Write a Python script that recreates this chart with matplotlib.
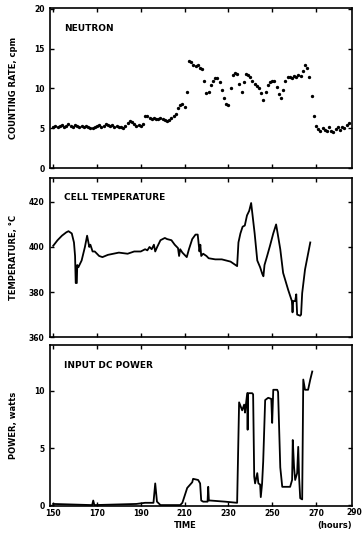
import numpy as np
import matplotlib.pyplot as plt

# neutron counting rate (cpm), hourly readings
n_time = np.arange(150, 286)
n_rate = [5.2, 5.3, 5.1, 5.3, 5.4, 5.2, 5.3, 5.5, 5.3, 5.2,
          5.4, 5.3, 5.1, 5.3, 5.2, 5.3, 5.2, 5.0, 5.0, 5.2,
          5.3, 5.4, 5.2, 5.3, 5.5, 5.4, 5.3, 5.4, 5.2, 5.3,
          5.2, 5.1, 5.0, 5.3, 5.6, 5.9, 5.8, 5.5, 5.3, 5.4,
          5.3, 5.5, 6.6, 6.5, 6.3, 6.2, 6.3, 6.1, 6.2, 6.3,
          6.1, 6.0, 5.9, 6.0, 6.3, 6.5, 6.8, 7.6, 7.9, 8.1,
          7.7, 9.5, 13.5, 13.3, 13.0, 12.8, 13.0, 12.6, 12.5, 11.0,
          9.4, 9.6, 10.4, 11.0, 11.3, 11.3, 10.8, 9.8, 8.8, 8.0,
          7.9, 10.0, 11.7, 11.9, 11.8, 10.6, 9.5, 10.8, 11.8, 11.7,
          11.4, 10.9, 10.6, 10.3, 10.0, 9.4, 8.6, 9.6, 10.4, 10.8,
          11.0, 11.0, 10.2, 9.3, 8.8, 9.8, 11.0, 11.4, 11.5, 11.3,
          11.6, 11.5, 11.7, 11.6, 12.2, 13.0, 12.6, 11.5, 9.0, 6.5,
          5.3, 4.9, 4.7, 5.0, 4.8, 4.6, 5.1, 4.7, 4.5, 4.9,
          5.1, 4.8, 5.2, 5.0, 5.4, 5.6]

# cell temperature (deg C)
t_time = [150, 152, 154, 156, 157, 158.5, 159.5, 160, 160.3, 160.8,
          161, 161.5, 163, 164.5, 165.5, 166.5, 167, 168, 169, 171,
          172.5, 175, 180, 184, 187, 190, 192, 193, 194, 195,
          196, 196.6, 197.5, 199, 201, 202, 204, 205.5, 207, 207.5,
          208, 209, 211, 212, 213.5, 215, 216, 216.8, 217.2, 217.6,
          218.5, 220, 221, 224, 227, 229, 231, 232.5, 234, 234.6,
          235.5, 236.5, 237.5, 238.5, 239.5, 240.4, 242, 243.2, 244.5, 245.5,
          246, 246.5, 247.7, 249, 250.5, 251.8, 252.5, 253.7, 255, 257.3,
          259, 259.3, 259.6, 260.5, 261, 261.4, 262.8, 263.2, 263.7, 265,
          267.4]
t_temp = [400.5, 403, 405, 406.5, 407, 406, 402, 396, 384, 384,
          392, 391, 394, 400, 405, 400, 401, 398, 398, 396,
          395.5, 396.5, 397.5, 397, 398, 398, 399, 398.5, 400, 399,
          401, 398, 400, 403, 404, 403.5, 403, 401, 399.5, 396,
          399, 397.5, 395.5, 399, 403.5, 405.5, 405.5, 398, 401, 396,
          397, 396, 395, 394.5, 394.5, 394, 393.5, 392.5, 391.5, 402,
          406, 409, 409.5, 414, 416, 419.5, 406, 394, 391, 388,
          387, 392, 396, 400.5, 406, 410, 406, 399, 388.5, 381,
          376, 371, 376, 376, 379, 370, 369.5, 370, 379.5, 390,
          402]

# input dc power (watts)
p_time = [150, 167.8, 168.3, 168.8, 188, 192, 195.8, 196.6, 197.4, 199,
          208, 209, 211.2, 213.5, 213.9, 216.2, 217.1, 217.6, 218.5, 220.5,
          220.8, 221.1, 221.7, 228.5, 234, 234.9, 236.3, 237.2, 237.6, 238.6,
          238.8, 239, 240.9, 241.3, 241.8, 242.2, 243.2, 243.7, 244.5, 244.8,
          245.4, 245.9, 246.8, 248.2, 249.6, 250, 250.5, 252.3, 252.7, 253.7,
          254.6, 258.2, 259.1, 259.4, 260, 260.5, 261.4, 261.9, 262.3, 262.8,
          263.7, 264.2, 265, 266.4, 267.4, 268.3]
p_watt = [0.1, 0.0, 0.4, 0.0, 0.1, 0.2, 0.2, 1.9, 0.3, 0.0,
          0.0, 0.2, 1.5, 2.0, 2.3, 2.2, 1.9, 0.4, 0.3, 0.3,
          1.6, 0.4, 0.4, 0.3, 0.2, 9.0, 8.3, 8.8, 8.1, 9.8,
          6.6, 9.8, 9.8, 9.7, 2.5, 1.9, 2.8, 1.9, 1.8, 0.7,
          1.9, 3.8, 9.2, 9.4, 9.3, 7.2, 10.1, 10.1, 9.9, 3.3,
          1.6, 1.6, 2.2, 5.7, 3.3, 2.2, 2.8, 5.1, 2.4, 0.6,
          0.5, 11.0, 10.1, 10.1, 11.0, 11.7]

xticks = [150, 170, 190, 210, 230, 250, 270]

plt.rcParams['font.family'] = 'DejaVu Sans'
plt.rcParams['font.weight'] = 'bold'

fig = plt.figure(figsize=(3.63, 5.42), dpi=100)
left, width = 0.138, 0.832
ax1 = fig.add_axes([left, 0.690, width, 0.295])
ax2 = fig.add_axes([left, 0.378, width, 0.294])
ax3 = fig.add_axes([left, 0.066, width, 0.297])

ax1.plot(n_time, n_rate, linestyle='none', marker='o', markersize=1.4,
         color='black')
ax2.plot(t_time, t_temp, color='black', linewidth=1.3)
ax3.plot(p_time, p_watt, color='black', linewidth=1.3)

ax1.set_ylim(0, 20.1)
ax1.set_yticks([0, 5, 10, 15, 20])
ax2.set_ylim(360, 430.7)
ax2.set_yticks([360, 380, 400, 420])
ax3.set_ylim(-0.1, 14)
ax3.set_yticks([0, 5, 10])

for ax in (ax1, ax2, ax3):
    ax.set_xlim(148.6, 286.5)
    ax.set_xticks(xticks)
    ax.tick_params(direction='in', length=3, width=1.0, top=True,
                   right=True, labelsize=5.5)
    ax.tick_params(axis='y', pad=4)
    ax.tick_params(axis='x', pad=2)
    for s in ax.spines.values():
        s.set_linewidth(1.2)
    ax.yaxis.set_label_coords(-0.105, 0.5)
ax1.tick_params(labelbottom=False)
ax2.tick_params(labelbottom=False)

ax1.text(0.045, 0.86, 'NEUTRON', transform=ax1.transAxes, fontsize=6.5,
         fontweight='bold')
ax2.text(0.045, 0.86, 'CELL TEMPERATURE', transform=ax2.transAxes,
         fontsize=6.5, fontweight='bold')
ax3.text(0.045, 0.86, 'INPUT DC POWER', transform=ax3.transAxes,
         fontsize=6.5, fontweight='bold')

ax1.set_ylabel('COUNTING RATE, cpm', fontsize=6, fontweight='bold')
ax2.set_ylabel('TEMPERATURE, \u00b0C', fontsize=6, fontweight='bold')
ax3.set_ylabel('POWER, watts', fontsize=6, fontweight='bold')

# last time label sits past the right frame, as in the original print
fig.text(0.997, 0.054, '290', fontsize=5.5, fontweight='bold',
         ha='right', va='center')
fig.text(0.51, 0.030, 'TIME', fontsize=6, fontweight='bold',
         ha='center', va='center')
fig.text(0.923, 0.030, '(hours)', fontsize=6, fontweight='bold',
         ha='center', va='center')

fig.savefig('out.png', dpi=100)
